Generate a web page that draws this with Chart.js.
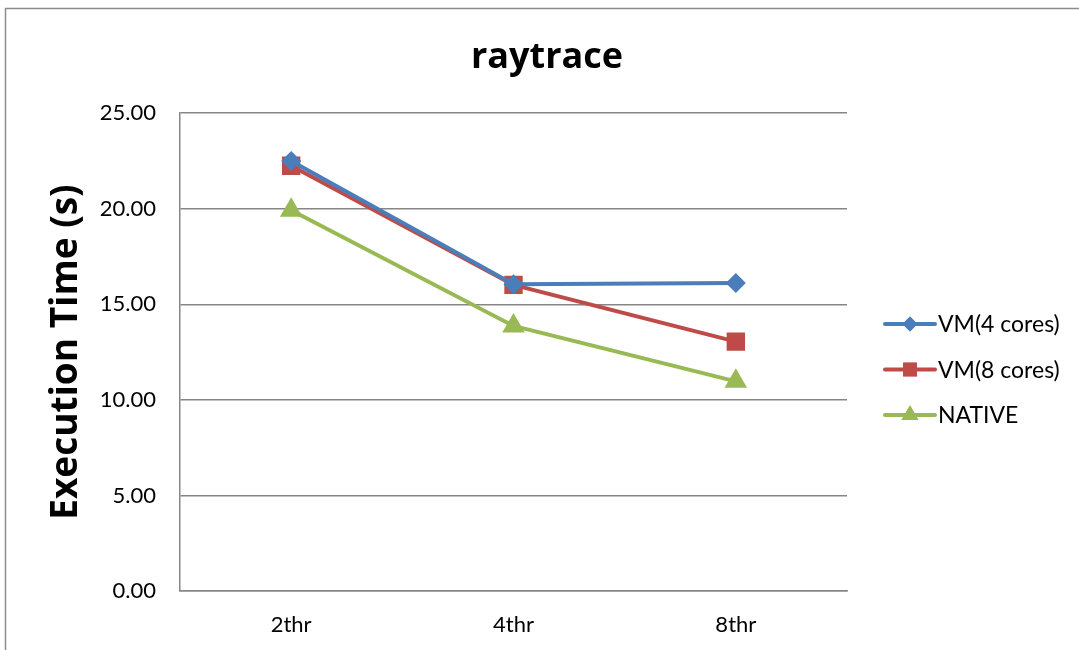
<!DOCTYPE html>
<html>
<head>
<meta charset="utf-8">
<script src="https://cdn.jsdelivr.net/npm/chart.js@4.4.1/dist/chart.umd.min.js"></script>
<style>
  html, body { margin: 0; padding: 0; background: #ffffff; }
  #wrap { width: 1079px; height: 650px; position: relative; }
</style>
</head>
<body>
<div id="wrap"><canvas id="chart" width="1079" height="650"></canvas></div>
<script>
// Thread configurations on the x axis
const categories = ['2thr', '4thr', '8thr'];

// Execution times in seconds
const vm4Cores = [22.5, 16.05, 16.12];
const vm8Cores = [22.25, 16.02, 13.05];
const nativeRun = [19.92, 13.87, 10.97];

const seriesLabels = ['VM(4 cores)', 'VM(8 cores)', 'NATIVE'];

// Y axis range and step
const yMin = 0;
const yMax = 25;
const yStep = 5;

const FONT = 'Lato, "Open Sans", "Liberation Sans", sans-serif';
const BOLD_FONT = '"Open Sans", Lato, "Liberation Sans", sans-serif';
const COLORS = ['#4a7ebb', '#be4b48', '#98b954'];
const MARKERS = ['rectRot', 'rect', 'triangle'];
const RADII = [10, 13, 13];

// Outer frame of the chart object
const framePlugin = {
  id: 'frame',
  beforeDraw(chart) {
    const ctx = chart.ctx;
    ctx.save();
    ctx.fillStyle = '#ffffff';
    ctx.fillRect(0, 0, chart.width, chart.height);
    ctx.strokeStyle = '#8c8c8c';
    ctx.lineWidth = 1.5;
    ctx.strokeRect(5.5, 8.5, chart.width + 20, chart.height + 20);
    ctx.restore();
  }
};

// Legend on the right: line segment with the series marker in the middle
const lineLegend = {
  id: 'lineLegend',
  afterDraw(chart) {
    const ctx = chart.ctx;
    const x0 = 885, x1 = 935, y0 = 324, gap = 45.5;
    chart.data.datasets.forEach((ds, i) => {
      const y = y0 + i * gap;
      ctx.save();
      ctx.strokeStyle = ds.borderColor;
      ctx.lineWidth = 4;
      ctx.lineCap = 'round';
      ctx.beginPath();
      ctx.moveTo(x0, y);
      ctx.lineTo(x1, y);
      ctx.stroke();
      ctx.fillStyle = ds.pointBackgroundColor;
      Chart.helpers.drawPoint(ctx, {
        pointStyle: ds.pointStyle,
        radius: ds.pointRadius * 0.75,
        borderWidth: 0,
        rotation: 0
      }, (x0 + x1) / 2, y);
      ctx.fill();
      ctx.fillStyle = '#000000';
      ctx.font = '23px ' + FONT;
      ctx.textBaseline = 'middle';
      ctx.textAlign = 'left';
      ctx.fillText(ds.label, x1 + 3, y + 1);
      ctx.restore();
    });
  }
};

const seriesData = [vm4Cores, vm8Cores, nativeRun];

new Chart(document.getElementById('chart'), {
  type: 'line',
  data: {
    labels: categories,
    datasets: seriesData.map((values, i) => ({
      label: seriesLabels[i],
      data: values,
      yAxisID: 'y',
      borderColor: COLORS[i],
      backgroundColor: COLORS[i],
      pointBackgroundColor: COLORS[i],
      pointBorderColor: COLORS[i],
      pointBorderWidth: 0,
      borderWidth: 4,
      pointStyle: MARKERS[i],
      pointRadius: RADII[i],
      pointHoverRadius: RADII[i],
      tension: 0,
      fill: false
    }))
  },
  options: {
    responsive: false,
    animation: false,
    devicePixelRatio: 1,
    layout: { padding: { left: 15, right: 0, top: 8, bottom: 0 } },
    plugins: {
      legend: { display: false },
      tooltip: { enabled: false },
      title: {
        display: true,
        text: 'raytrace',
        color: '#000000',
        font: { family: BOLD_FONT, size: 36, weight: 'bold', lineHeight: 1.2 },
        padding: { top: 28, bottom: 34 }
      }
    },
    scales: {
      x: {
        offset: true,
        grid: { display: false, drawTicks: false },
        border: { display: true, color: '#868686', width: 1.5 },
        ticks: { color: '#000000', font: { family: FONT, size: 22 }, padding: 21 },
        afterFit(scale) { scale.height = 59; }
      },
      y: {
        min: yMin,
        max: yMax,
        grid: { color: '#868686', lineWidth: 1.5, drawTicks: false },
        border: { display: true, color: '#868686', width: 1.5 },
        ticks: {
          stepSize: yStep,
          color: '#000000',
          font: { family: FONT, size: 22 },
          padding: 24,
          callback: (v) => Number(v).toFixed(2)
        },
        title: {
          display: true,
          text: 'Execution Time (s)',
          color: '#000000',
          font: { family: BOLD_FONT, size: 37, weight: 'bold', lineHeight: 1.2 },
          padding: { top: 29, bottom: 0 }
        },
        afterFit(scale) { scale.width = 165; }
      },
      // Empty right-hand band that holds the legend
      legendBand: {
        type: 'linear',
        position: 'right',
        display: true,
        grid: { display: false, drawTicks: false },
        border: { display: false },
        ticks: { display: false },
        afterFit(scale) { scale.width = 232; }
      }
    }
  },
  plugins: [framePlugin, lineLegend]
});
</script>
</body>
</html>
